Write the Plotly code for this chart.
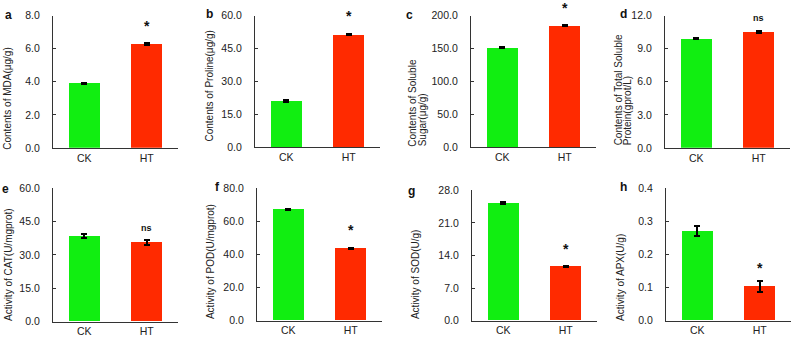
import plotly.graph_objects as go

W, H = 792, 344

categories = ["CK", "HT"]
panel_letters = ["a", "b", "c", "d", "e", "f", "g", "h"]
mda = [3.92, 6.28]
mda_err = [0.03, 0.04]
proline = [21.0, 51.4]
proline_err = [0.25, 0.3]
sugar = [152.0, 184.8]
sugar_err = [0.9, 0.9]
protein = [9.92, 10.53]
protein_err = [0.08, 0.08]
cat = [38.4, 35.7]
cat_err = [0.9, 1.1]
pod = [67.0, 43.8]
pod_err = [0.3, 0.3]
sod = [25.3, 11.6]
sod_err = [0.15, 0.15]
apx = [0.271, 0.104]
apx_err = [0.015, 0.016]
signif = ["*", "*", "*", "ns", "ns", "*", "*", "*"]
y_max = [8, 60, 200, 12, 60, 80, 28, 0.4]
y_dtick = [2, 15, 50, 3, 15, 20, 7, 0.1]
titles = [
    ["Contents of MDA(μg/g)"],
    ["Contents of Proline(μg/g)"],
    ["Contents of Soluble", "Sugar(μg/g)"],
    ["Contents of Total Soluble", "Protein(gprot/L)"],
    ["Activity of CAT(U/mgprot)"],
    ["Activity of POD(U/mgprot)"],
    ["Activity of SOD(U/g)"],
    ["Activity of APX(U/g)"],
]
values = [mda, proline, sugar, protein, cat, pod, sod, apx]
errors = [mda_err, proline_err, sugar_err, protein_err, cat_err, pod_err, sod_err, apx_err]

GREEN = "#11EE11"
RED = "#FF2A00"
AX = "#333333"
FONT = "Liberation Sans, Arial, sans-serif"

# layout geometry in pixels (left, top, right, bottom)
boxes = [
    (53, 10, 178, 147), (255, 10, 380, 146), (471, 10, 596, 146), (665, 10, 790, 147),
    (53, 189, 178, 327), (257, 189, 382, 326), (472, 191, 597, 326), (666, 189, 791, 326),
]
letter_pos = [(8, 9), (209, 8), (410, 9), (623, 8), (5, 190), (217, 188), (411, 192), (623, 188)]
title_x = [[8], [210], [413, 422], [618, 627], [8], [210], [415], [620]]
title_bottom = [151, 143, 148, 147, 329, 327, 327, 329]

fig = go.Figure()
annotations = []
layout = {}
for i in range(8):
    n = i + 1
    xa = "x" if n == 1 else f"x{n}"
    ya = "y" if n == 1 else f"y{n}"
    fig.add_trace(go.Bar(
        x=categories, y=values[i],
        marker=dict(color=[GREEN, RED], line=dict(width=0)),
        width=0.5,
        error_y=dict(type="data", array=errors[i], color="black", thickness=2, width=3),
        xaxis=xa, yaxis=ya, showlegend=False, hoverinfo="skip",
    ))
    l, t, r, b = boxes[i]
    layout[f"xaxis{n}" if n > 1 else "xaxis"] = dict(
        domain=[l / W, r / W], anchor=ya, range=[-0.5, 1.5],
        showline=True, linecolor=AX, linewidth=1.3, ticks="",
        showgrid=False, zeroline=False, fixedrange=True,
        tickfont=dict(family=FONT, size=10.5, color="#222"),
    )
    layout[f"yaxis{n}" if n > 1 else "yaxis"] = dict(
        domain=[1 - b / H, 1 - t / H], anchor=xa, range=[0, y_max[i]],
        dtick=y_dtick[i], tick0=0, tickformat=".1f",
        showline=True, linecolor=AX, linewidth=1.3,
        ticks="inside", ticklen=3, tickcolor=AX,
        ticklabelstandoff=10,
        showgrid=False, zeroline=False, fixedrange=True,
        tickfont=dict(family=FONT, size=10.5, color="#222"),
    )
    # significance label above HT bar
    sig = signif[i]
    annotations.append(dict(
        x="HT", y=values[i][1], xref=xa, yref=ya,
        text=f"<b>{sig}</b>", showarrow=False, yanchor="bottom",
        yshift=8 if sig == "*" else 7,
        font=dict(family=FONT, size=14 if sig == "*" else 9, color="#111"),
    ))
    # panel letter
    lx, ly = letter_pos[i]
    annotations.append(dict(
        x=lx / W, y=1 - ly / H, xref="paper", yref="paper",
        text=f"<b>{panel_letters[i]}</b>", showarrow=False,
        xanchor="center", yanchor="middle",
        font=dict(family=FONT, size=12, color="#111"),
    ))
    # y title lines
    for line, tx in zip(titles[i], title_x[i]):
        annotations.append(dict(
            x=tx / W, y=1 - title_bottom[i] / H, xref="paper", yref="paper",
            text=line, showarrow=False, textangle=-90,
            xanchor="center", yanchor="bottom",
            font=dict(family=FONT, size=10, color="#222"),
        ))

fig.update_layout(
    width=W, height=H, margin=dict(l=0, r=0, t=0, b=0),
    paper_bgcolor="white", plot_bgcolor="white",
    annotations=annotations, bargap=0, **layout,
)
fig.write_html("out.html", config={"displayModeBar": False},
               post_script="document.body.style.margin='0';")
